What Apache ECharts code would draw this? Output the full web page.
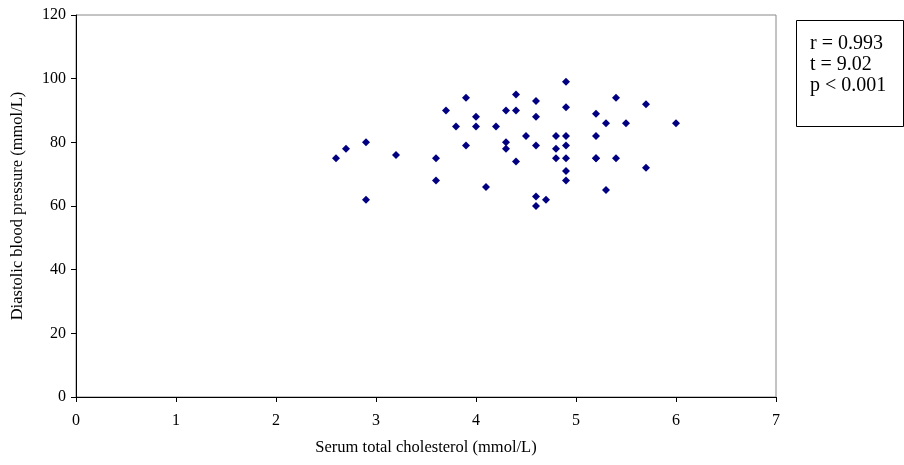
<!DOCTYPE html>
<html>
<head>
<meta charset="utf-8">
<script src="https://cdn.jsdelivr.net/npm/echarts@6/dist/echarts.min.js"></script>
<style>
  html, body { margin: 0; padding: 0; background: #fff; }
  #chart { width: 904px; height: 465px; }
</style>
</head>
<body>
<div id="chart"></div>
<script>
// Serum total cholesterol (mmol/L)
const cholesterol = [
  2.6, 2.7, 2.9, 2.9, 3.2, 3.6, 3.6, 3.7, 3.8, 3.9, 3.9, 4.0, 4.0, 4.1, 4.2,
  4.3, 4.3, 4.3, 4.4, 4.4, 4.4, 4.5, 4.6, 4.6, 4.6, 4.6, 4.6, 4.7, 4.8, 4.8,
  4.8, 4.9, 4.9, 4.9, 4.9, 4.9, 4.9, 4.9, 5.2, 5.2, 5.2, 5.2, 5.3, 5.3, 5.4,
  5.4, 5.5, 5.7, 5.7, 6.0
];
// Diastolic blood pressure
const diastolic = [
  75, 78, 80, 62, 76, 75, 68, 90, 85, 94, 79, 88, 85, 66, 85,
  90, 80, 78, 95, 90, 74, 82, 93, 88, 79, 63, 60, 62, 82, 78,
  75, 99, 91, 82, 79, 75, 71, 68, 89, 82, 75, 75, 86, 65, 94,
  75, 86, 92, 72, 86
];
const xTicks = [0, 1, 2, 3, 4, 5, 6, 7];
const yTicks = [0, 20, 40, 60, 80, 100, 120];
const statsLines = ['r = 0.993', 't = 9.02', 'p < 0.001'];

const font = 'Liberation Serif, Times New Roman, serif';
const points = cholesterol.map((x, i) => [x, diastolic[i]]);

const chart = echarts.init(document.getElementById('chart'));

chart.setOption({
  animation: false,
  backgroundColor: '#fff',
  textStyle: { fontFamily: font },
  grid: { left: 76, right: 128, top: 15, bottom: 68, show: true, borderColor: '#888', borderWidth: 1 },
  xAxis: {
    type: 'value',
    min: xTicks[0],
    max: xTicks[xTicks.length - 1],
    interval: 1,
    name: 'Serum total cholesterol (mmol/L)',
    nameLocation: 'middle',
    nameGap: 42,
    nameTextStyle: { fontFamily: font, fontSize: 16.5, color: '#000' },
    axisLine: { lineStyle: { color: '#000', width: 1 } },
    axisTick: { show: true, length: 5, lineStyle: { color: '#000' } },
    axisLabel: { fontFamily: font, fontSize: 16, color: '#000', margin: 16 },
    splitLine: { show: false }
  },
  yAxis: {
    type: 'value',
    min: yTicks[0],
    max: yTicks[yTicks.length - 1],
    interval: 20,
    name: 'Diastolic blood pressure (mmol/L)',
    nameLocation: 'middle',
    nameGap: 50,
    nameTextStyle: { fontFamily: font, fontSize: 16.5, color: '#000' },
    axisLine: { show: true, lineStyle: { color: '#000', width: 1 } },
    axisTick: { show: true, length: 5, lineStyle: { color: '#000' } },
    axisLabel: { fontFamily: font, fontSize: 16, color: '#000', margin: 10 },
    splitLine: { show: false }
  },
  graphic: [
    {
      type: 'rect',
      shape: { x: 796.5, y: 20.5, width: 107, height: 106 },
      style: { fill: '#fff', stroke: '#000', lineWidth: 1 }
    },
    {
      type: 'text',
      left: 810,
      top: 33,
      style: {
        text: statsLines.join('\n'),
        fontFamily: font,
        fontSize: 20,
        lineHeight: 21,
        fill: '#000'
      }
    }
  ],
  series: [
    {
      type: 'scatter',
      data: points,
      symbol: 'diamond',
      symbolSize: 8,
      itemStyle: { color: '#000080', opacity: 1 }
    }
  ]
});
</script>
</body>
</html>
